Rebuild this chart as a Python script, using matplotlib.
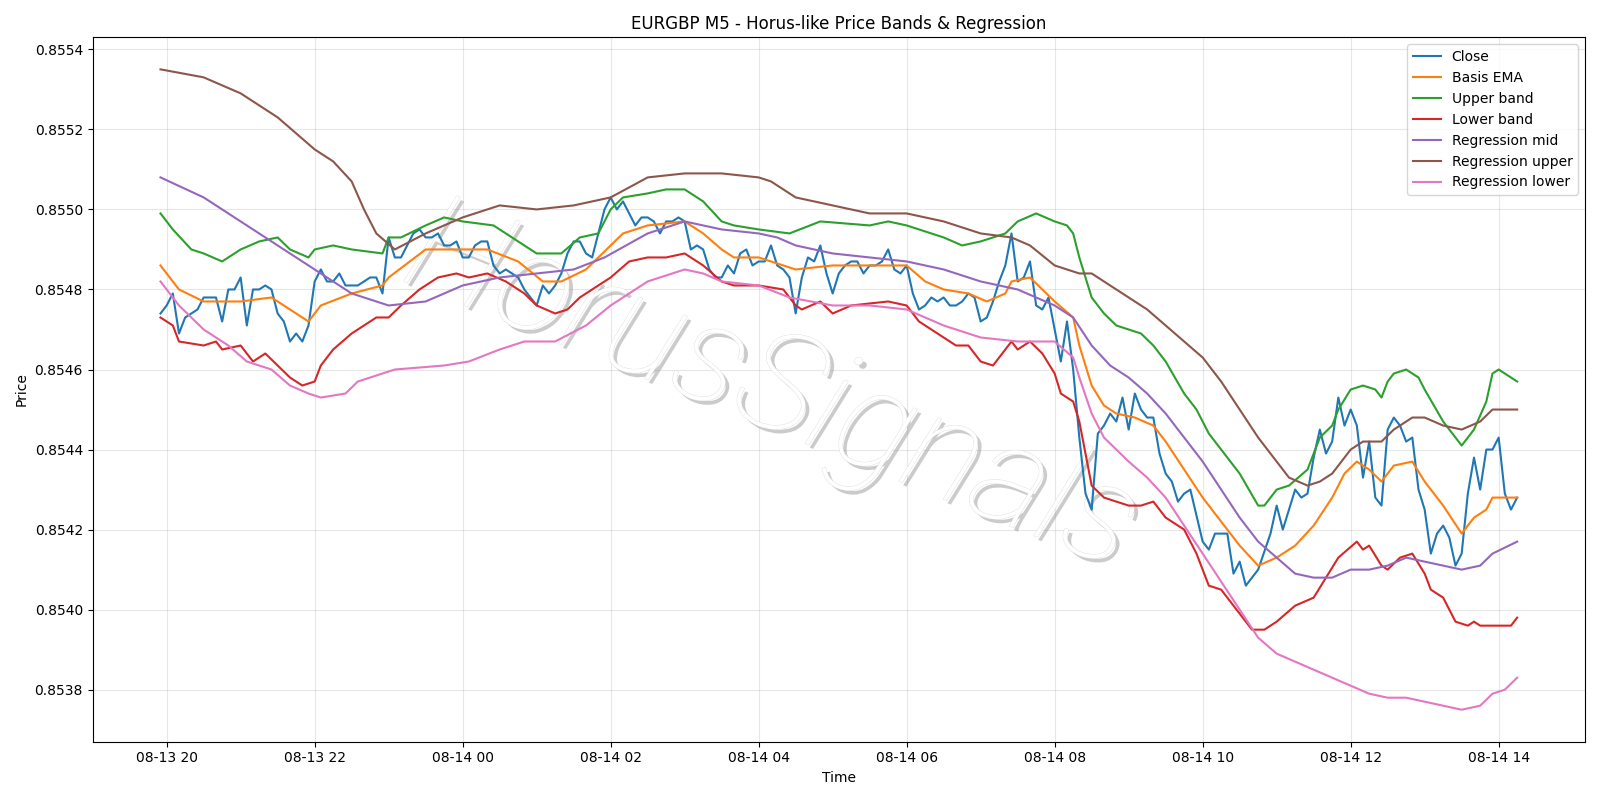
import matplotlib
matplotlib.use("Agg")
import matplotlib.pyplot as plt
import matplotlib.dates as mdates
import matplotlib.patheffects as pe
import pandas as pd

# ---------------- data ----------------
close_t = ["08-13 19:55","08-13 20:00","08-13 20:05","08-13 20:10","08-13 20:15","08-13 20:25","08-13 20:30","08-13 20:40","08-13 20:45","08-13 20:50","08-13 20:55","08-13 21:00","08-13 21:05","08-13 21:10","08-13 21:15","08-13 21:20","08-13 21:25","08-13 21:30","08-13 21:35","08-13 21:40","08-13 21:45","08-13 21:50","08-13 21:55","08-13 22:00","08-13 22:05","08-13 22:10","08-13 22:15","08-13 22:20","08-13 22:25","08-13 22:35","08-13 22:45","08-13 22:50","08-13 22:55","08-13 23:00","08-13 23:05","08-13 23:10","08-13 23:15","08-13 23:20","08-13 23:25","08-13 23:30","08-13 23:35","08-13 23:40","08-13 23:45","08-13 23:50","08-13 23:55",
"08-14 00:00","08-14 00:05","08-14 00:10","08-14 00:15","08-14 00:20","08-14 00:25","08-14 00:30","08-14 00:35","08-14 00:40","08-14 00:45","08-14 00:50","08-14 00:55","08-14 01:00","08-14 01:05","08-14 01:10","08-14 01:15","08-14 01:20","08-14 01:25","08-14 01:30","08-14 01:35","08-14 01:40","08-14 01:45","08-14 01:50","08-14 01:55",
"08-14 02:00","08-14 02:05","08-14 02:10","08-14 02:15","08-14 02:20","08-14 02:25","08-14 02:30","08-14 02:35","08-14 02:40","08-14 02:45","08-14 02:50","08-14 02:55","08-14 03:00","08-14 03:05","08-14 03:10","08-14 03:15","08-14 03:20","08-14 03:25","08-14 03:30","08-14 03:35","08-14 03:40","08-14 03:45","08-14 03:50","08-14 03:55",
"08-14 04:00","08-14 04:05","08-14 04:10","08-14 04:15","08-14 04:20","08-14 04:25","08-14 04:30","08-14 04:35","08-14 04:40","08-14 04:45","08-14 04:50","08-14 04:55","08-14 05:00","08-14 05:05","08-14 05:10","08-14 05:15","08-14 05:20","08-14 05:25","08-14 05:30","08-14 05:35","08-14 05:40","08-14 05:45","08-14 05:50","08-14 05:55",
"08-14 06:00","08-14 06:05","08-14 06:10","08-14 06:15","08-14 06:20","08-14 06:25","08-14 06:30","08-14 06:35","08-14 06:40","08-14 06:45","08-14 06:50","08-14 06:55","08-14 07:00","08-14 07:05","08-14 07:10","08-14 07:15","08-14 07:20","08-14 07:25","08-14 07:30","08-14 07:35","08-14 07:40","08-14 07:45","08-14 07:50","08-14 07:55",
"08-14 08:00","08-14 08:05","08-14 08:10","08-14 08:15","08-14 08:20","08-14 08:25","08-14 08:30","08-14 08:35","08-14 08:40","08-14 08:45","08-14 08:50","08-14 08:55","08-14 09:00","08-14 09:05","08-14 09:10","08-14 09:15","08-14 09:20","08-14 09:25","08-14 09:30","08-14 09:35","08-14 09:40","08-14 09:45","08-14 09:50","08-14 10:00",
"08-14 10:05","08-14 10:10","08-14 10:20","08-14 10:25","08-14 10:30","08-14 10:35","08-14 10:40","08-14 10:45","08-14 10:55","08-14 11:00","08-14 11:05","08-14 11:10","08-14 11:15","08-14 11:20","08-14 11:25","08-14 11:30","08-14 11:35","08-14 11:40","08-14 11:45","08-14 11:50","08-14 11:55",
"08-14 12:00","08-14 12:05","08-14 12:10","08-14 12:15","08-14 12:20","08-14 12:25","08-14 12:30","08-14 12:35","08-14 12:40","08-14 12:45","08-14 12:50","08-14 12:55","08-14 13:00","08-14 13:05","08-14 13:10","08-14 13:15","08-14 13:20","08-14 13:25","08-14 13:30","08-14 13:35","08-14 13:40","08-14 13:45","08-14 13:50","08-14 13:55","08-14 14:00","08-14 14:05","08-14 14:10","08-14 14:15"]
close_v = [0.85474,0.85476,0.85479,0.85469,0.85473,0.85475,0.85478,0.85478,0.85472,0.85480,0.85480,0.85483,0.85471,0.85480,0.85480,0.85481,0.85480,0.85474,0.85472,0.85467,0.85469,0.85467,0.85471,0.85482,0.85485,0.85482,0.85482,0.85484,0.85481,0.85481,0.85483,0.85483,0.85479,0.85493,0.85488,0.85488,0.85491,0.85494,0.85495,0.85493,0.85493,0.85494,0.85491,0.85491,0.85492,
0.85488,0.85488,0.85491,0.85492,0.85492,0.85486,0.85484,0.85485,0.85484,0.85483,0.85480,0.85478,0.85476,0.85481,0.85479,0.85481,0.85484,0.85489,0.85492,0.85492,0.85489,0.85488,0.85494,0.85500,
0.85503,0.85500,0.85502,0.85499,0.85496,0.85498,0.85498,0.85497,0.85494,0.85497,0.85497,0.85498,0.85497,0.85490,0.85491,0.85490,0.85485,0.85483,0.85483,0.85486,0.85484,0.85489,0.85490,0.85486,
0.85487,0.85487,0.85491,0.85486,0.85485,0.85483,0.85474,0.85483,0.85488,0.85487,0.85491,0.85484,0.85479,0.85484,0.85486,0.85487,0.85487,0.85484,0.85486,0.85486,0.85487,0.85490,0.85485,0.85484,
0.85486,0.85479,0.85475,0.85476,0.85478,0.85477,0.85478,0.85476,0.85476,0.85477,0.85479,0.85478,0.85472,0.85473,0.85477,0.85482,0.85486,0.85494,0.85482,0.85483,0.85487,0.85476,0.85475,0.85478,
0.85470,0.85462,0.85472,0.85460,0.85443,0.85429,0.85425,0.85444,0.85446,0.85449,0.85447,0.85453,0.85445,0.85454,0.85450,0.85448,0.85448,0.85439,0.85434,0.85432,0.85427,0.85429,0.85430,0.85417,
0.85415,0.85419,0.85419,0.85409,0.85412,0.85406,0.85408,0.85410,0.85419,0.85426,0.85420,0.85425,0.85430,0.85428,0.85429,0.85438,0.85445,0.85439,0.85442,0.85453,0.85446,
0.85450,0.85446,0.85433,0.85442,0.85428,0.85426,0.85445,0.85448,0.85446,0.85442,0.85443,0.85430,0.85425,0.85414,0.85419,0.85421,0.85418,0.85411,0.85414,0.85429,0.85438,0.85430,0.85440,0.85440,0.85443,0.85429,0.85425,0.85428]

ema_t = ["08-13 19:55","08-13 20:10","08-13 20:30","08-13 20:45","08-13 21:00","08-13 21:25","08-13 21:40","08-13 21:55","08-13 22:05","08-13 22:30","08-13 22:55","08-13 23:00","08-13 23:30","08-14 00:00","08-14 00:20","08-14 00:45","08-14 01:05","08-14 01:20","08-14 01:40","08-14 02:00","08-14 02:10","08-14 02:30","08-14 03:00","08-14 03:15","08-14 03:30","08-14 03:40","08-14 04:00","08-14 04:30","08-14 05:00","08-14 05:30","08-14 06:00","08-14 06:15","08-14 06:30","08-14 06:50","08-14 07:05","08-14 07:20","08-14 07:25","08-14 07:40","08-14 07:50","08-14 08:00","08-14 08:15","08-14 08:20","08-14 08:30","08-14 08:40","08-14 08:50","08-14 09:05","08-14 09:20","08-14 09:30","08-14 09:45","08-14 10:00","08-14 10:15","08-14 10:30","08-14 10:45","08-14 11:00","08-14 11:15","08-14 11:30","08-14 11:45","08-14 11:55","08-14 12:05","08-14 12:15","08-14 12:25","08-14 12:35","08-14 12:50","08-14 13:00","08-14 13:15","08-14 13:30","08-14 13:40","08-14 13:50","08-14 13:55","08-14 14:05","08-14 14:15"]
ema_v = [0.85486,0.85480,0.85477,0.85477,0.85477,0.85478,0.85475,0.85472,0.85476,0.85479,0.85481,0.85483,0.85490,0.85490,0.85490,0.85487,0.85482,0.85482,0.85485,0.85491,0.85494,0.85496,0.85497,0.85494,0.85490,0.85488,0.85488,0.85485,0.85486,0.85486,0.85486,0.85482,0.85480,0.85479,0.85477,0.85479,0.85482,0.85483,0.85480,0.85477,0.85473,0.85466,0.85456,0.85451,0.85449,0.85448,0.85446,0.85442,0.85435,0.85428,0.85422,0.85416,0.85411,0.85413,0.85416,0.85421,0.85428,0.85434,0.85437,0.85435,0.85432,0.85436,0.85437,0.85432,0.85426,0.85419,0.85423,0.85425,0.85428,0.85428,0.85428]

upper_t = ["08-13 19:55","08-13 20:05","08-13 20:20","08-13 20:30","08-13 20:45","08-13 21:00","08-13 21:15","08-13 21:30","08-13 21:40","08-13 21:55","08-13 22:00","08-13 22:15","08-13 22:30","08-13 22:55","08-13 23:00","08-13 23:10","08-13 23:30","08-13 23:45","08-14 00:00","08-14 00:25","08-14 00:40","08-14 01:00","08-14 01:20","08-14 01:35","08-14 01:50","08-14 02:00","08-14 02:10","08-14 02:30","08-14 02:45","08-14 03:00","08-14 03:15","08-14 03:30","08-14 03:40","08-14 04:00","08-14 04:25","08-14 04:50","08-14 05:30","08-14 05:45","08-14 06:00","08-14 06:30","08-14 06:45","08-14 07:00","08-14 07:20","08-14 07:30","08-14 07:45","08-14 08:00","08-14 08:10","08-14 08:15","08-14 08:20","08-14 08:30","08-14 08:40","08-14 08:50","08-14 09:00","08-14 09:10","08-14 09:20","08-14 09:30","08-14 09:45","08-14 09:55","08-14 10:05","08-14 10:20","08-14 10:30","08-14 10:45","08-14 10:50","08-14 11:00","08-14 11:10","08-14 11:25","08-14 11:35","08-14 11:45","08-14 11:50","08-14 12:00","08-14 12:10","08-14 12:20","08-14 12:25","08-14 12:30","08-14 12:35","08-14 12:45","08-14 12:55","08-14 13:00","08-14 13:15","08-14 13:30","08-14 13:40","08-14 13:50","08-14 13:55","08-14 14:00","08-14 14:15"]
upper_v = [0.85499,0.85495,0.85490,0.85489,0.85487,0.85490,0.85492,0.85493,0.85490,0.85488,0.85490,0.85491,0.85490,0.85489,0.85493,0.85493,0.85496,0.85498,0.85497,0.85496,0.85493,0.85489,0.85489,0.85493,0.85494,0.85500,0.85503,0.85504,0.85505,0.85505,0.85502,0.85497,0.85496,0.85495,0.85494,0.85497,0.85496,0.85497,0.85496,0.85493,0.85491,0.85492,0.85494,0.85497,0.85499,0.85497,0.85496,0.85494,0.85488,0.85478,0.85474,0.85471,0.85470,0.85469,0.85466,0.85462,0.85454,0.85450,0.85444,0.85438,0.85434,0.85426,0.85426,0.85430,0.85431,0.85435,0.85443,0.85446,0.85450,0.85455,0.85456,0.85455,0.85453,0.85457,0.85459,0.85460,0.85458,0.85455,0.85447,0.85441,0.85445,0.85452,0.85459,0.85460,0.85457]

lower_t = ["08-13 19:55","08-13 20:05","08-13 20:10","08-13 20:30","08-13 20:40","08-13 20:45","08-13 21:00","08-13 21:10","08-13 21:20","08-13 21:30","08-13 21:40","08-13 21:50","08-13 22:00","08-13 22:05","08-13 22:15","08-13 22:30","08-13 22:50","08-13 23:00","08-13 23:10","08-13 23:25","08-13 23:40","08-13 23:55","08-14 00:05","08-14 00:20","08-14 00:35","08-14 00:50","08-14 01:00","08-14 01:15","08-14 01:25","08-14 01:35","08-14 01:45","08-14 02:00","08-14 02:15","08-14 02:30","08-14 02:45","08-14 03:00","08-14 03:05","08-14 03:15","08-14 03:30","08-14 03:40","08-14 04:00","08-14 04:20","08-14 04:30","08-14 04:35","08-14 04:50","08-14 05:00","08-14 05:15","08-14 05:45","08-14 06:00","08-14 06:10","08-14 06:30","08-14 06:40","08-14 06:50","08-14 07:00","08-14 07:10","08-14 07:25","08-14 07:30","08-14 07:40","08-14 07:50","08-14 08:00","08-14 08:05","08-14 08:15","08-14 08:20","08-14 08:30","08-14 08:40","08-14 08:50","08-14 09:00","08-14 09:10","08-14 09:20","08-14 09:30","08-14 09:45","08-14 09:55","08-14 10:05","08-14 10:15","08-14 10:30","08-14 10:40","08-14 10:50","08-14 11:00","08-14 11:15","08-14 11:30","08-14 11:40","08-14 11:50","08-14 12:05","08-14 12:10","08-14 12:15","08-14 12:25","08-14 12:30","08-14 12:40","08-14 12:50","08-14 13:00","08-14 13:05","08-14 13:15","08-14 13:25","08-14 13:35","08-14 13:40","08-14 13:45","08-14 13:55","08-14 14:10","08-14 14:15"]
lower_v = [0.85473,0.85471,0.85467,0.85466,0.85467,0.85465,0.85466,0.85462,0.85464,0.85461,0.85458,0.85456,0.85457,0.85461,0.85465,0.85469,0.85473,0.85473,0.85476,0.85480,0.85483,0.85484,0.85483,0.85484,0.85482,0.85479,0.85476,0.85474,0.85475,0.85478,0.85480,0.85483,0.85487,0.85488,0.85488,0.85489,0.85488,0.85486,0.85482,0.85481,0.85481,0.85480,0.85476,0.85475,0.85477,0.85474,0.85476,0.85477,0.85476,0.85472,0.85468,0.85466,0.85466,0.85462,0.85461,0.85467,0.85465,0.85467,0.85464,0.85459,0.85454,0.85452,0.85447,0.85431,0.85428,0.85427,0.85426,0.85426,0.85427,0.85423,0.85420,0.85414,0.85406,0.85405,0.85399,0.85395,0.85395,0.85397,0.85401,0.85403,0.85408,0.85413,0.85417,0.85415,0.85416,0.85411,0.85410,0.85413,0.85414,0.85409,0.85405,0.85403,0.85397,0.85396,0.85397,0.85396,0.85396,0.85396,0.85398]

rmid_t = ["08-13 19:55","08-13 20:30","08-13 21:00","08-13 21:30","08-13 22:00","08-13 22:30","08-13 23:00","08-13 23:30","08-14 00:00","08-14 00:30","08-14 01:00","08-14 01:30","08-14 01:55","08-14 02:30","08-14 03:00","08-14 03:30","08-14 04:00","08-14 04:15","08-14 04:30","08-14 05:00","08-14 05:30","08-14 06:00","08-14 06:30","08-14 07:00","08-14 07:30","08-14 08:00","08-14 08:15","08-14 08:30","08-14 08:45","08-14 09:00","08-14 09:15","08-14 09:30","08-14 09:45","08-14 10:00","08-14 10:15","08-14 10:30","08-14 10:45","08-14 11:00","08-14 11:15","08-14 11:30","08-14 11:45","08-14 12:00","08-14 12:15","08-14 12:30","08-14 12:45","08-14 13:00","08-14 13:15","08-14 13:30","08-14 13:45","08-14 13:55","08-14 14:15"]
rmid_v = [0.85508,0.85503,0.85497,0.85491,0.85485,0.85479,0.85476,0.85477,0.85481,0.85483,0.85484,0.85485,0.85488,0.85494,0.85497,0.85495,0.85494,0.85493,0.85491,0.85489,0.85488,0.85487,0.85485,0.85482,0.85480,0.85476,0.85473,0.85466,0.85461,0.85458,0.85454,0.85449,0.85443,0.85437,0.85430,0.85423,0.85417,0.85413,0.85409,0.85408,0.85408,0.85410,0.85410,0.85411,0.85413,0.85412,0.85411,0.85410,0.85411,0.85414,0.85417]

rup_t = ["08-13 19:55","08-13 20:30","08-13 21:00","08-13 21:30","08-13 22:00","08-13 22:15","08-13 22:30","08-13 22:40","08-13 22:50","08-13 23:05","08-13 23:30","08-14 00:00","08-14 00:30","08-14 01:00","08-14 01:30","08-14 02:00","08-14 02:30","08-14 03:00","08-14 03:30","08-14 04:00","08-14 04:10","08-14 04:30","08-14 05:00","08-14 05:30","08-14 06:00","08-14 06:30","08-14 07:00","08-14 07:25","08-14 07:40","08-14 08:00","08-14 08:20","08-14 08:30","08-14 08:45","08-14 09:00","08-14 09:15","08-14 09:30","08-14 09:45","08-14 10:00","08-14 10:15","08-14 10:30","08-14 10:45","08-14 11:00","08-14 11:10","08-14 11:25","08-14 11:35","08-14 11:45","08-14 12:00","08-14 12:10","08-14 12:25","08-14 12:35","08-14 12:50","08-14 13:00","08-14 13:15","08-14 13:30","08-14 13:45","08-14 13:55","08-14 14:15"]
rup_v = [0.85535,0.85533,0.85529,0.85523,0.85515,0.85512,0.85507,0.85500,0.85494,0.85490,0.85494,0.85498,0.85501,0.85500,0.85501,0.85503,0.85508,0.85509,0.85509,0.85508,0.85507,0.85503,0.85501,0.85499,0.85499,0.85497,0.85494,0.85493,0.85491,0.85486,0.85484,0.85484,0.85481,0.85478,0.85475,0.85471,0.85467,0.85463,0.85457,0.85450,0.85443,0.85437,0.85433,0.85431,0.85432,0.85434,0.85440,0.85442,0.85442,0.85445,0.85448,0.85448,0.85446,0.85445,0.85447,0.85450,0.85450]

rlow_t = ["08-13 19:55","08-13 20:10","08-13 20:30","08-13 20:50","08-13 21:05","08-13 21:25","08-13 21:40","08-13 21:55","08-13 22:05","08-13 22:25","08-13 22:35","08-13 23:05","08-13 23:45","08-14 00:05","08-14 00:30","08-14 00:50","08-14 01:15","08-14 01:40","08-14 02:00","08-14 02:30","08-14 03:00","08-14 03:15","08-14 03:30","08-14 04:00","08-14 04:25","08-14 05:00","08-14 05:30","08-14 06:00","08-14 06:30","08-14 07:00","08-14 07:30","08-14 08:00","08-14 08:15","08-14 08:20","08-14 08:30","08-14 08:40","08-14 09:00","08-14 09:15","08-14 09:30","08-14 09:45","08-14 10:00","08-14 10:15","08-14 10:30","08-14 10:45","08-14 11:00","08-14 11:15","08-14 11:30","08-14 11:45","08-14 12:00","08-14 12:15","08-14 12:30","08-14 12:45","08-14 13:00","08-14 13:15","08-14 13:30","08-14 13:45","08-14 13:55","08-14 14:05","08-14 14:15"]
rlow_v = [0.85482,0.85476,0.85470,0.85466,0.85462,0.85460,0.85456,0.85454,0.85453,0.85454,0.85457,0.85460,0.85461,0.85462,0.85465,0.85467,0.85467,0.85471,0.85476,0.85482,0.85485,0.85484,0.85482,0.85481,0.85478,0.85476,0.85476,0.85475,0.85471,0.85468,0.85467,0.85467,0.85463,0.85458,0.85449,0.85443,0.85437,0.85433,0.85428,0.85421,0.85414,0.85407,0.85400,0.85393,0.85389,0.85387,0.85385,0.85383,0.85381,0.85379,0.85378,0.85378,0.85377,0.85376,0.85375,0.85376,0.85379,0.85380,0.85383]

series = [
    ("Close", close_t, close_v),
    ("Basis EMA", ema_t, ema_v),
    ("Upper band", upper_t, upper_v),
    ("Lower band", lower_t, lower_v),
    ("Regression mid", rmid_t, rmid_v),
    ("Regression upper", rup_t, rup_v),
    ("Regression lower", rlow_t, rlow_v),
]

def to_dt(ts):
    return pd.to_datetime(["2025-" + t for t in ts], format="%Y-%m-%d %H:%M")

fig, ax = plt.subplots(figsize=(16, 8), dpi=100)
for name, t, v in series:
    ax.plot(to_dt(t), v, label=name, linewidth=1.5, zorder=3)

ax.set_title("EURGBP M5 - Horus-like Price Bands & Regression")
ax.set_xlabel("Time")
ax.set_ylabel("Price")
ax.grid(True, alpha=0.3)
ax.legend(loc="upper right")
ax.xaxis.set_major_locator(mdates.HourLocator(interval=2))
ax.xaxis.set_major_formatter(mdates.DateFormatter("%m-%d %H"))
ax.set_ylim(0.85367, 0.85543)

ax.text(0.455, 0.50, "HorusSignals", transform=ax.transAxes, fontsize=100, rotation=-22,
        color="white", fontstyle="italic", family="Roboto", fontweight=100,
        ha="center", va="center", zorder=2,
        path_effects=[pe.SimplePatchShadow(offset=(3, -3), shadow_rgbFace="#999999", alpha=0.5),
                      pe.Stroke(linewidth=0.6, foreground="#dddddd"),
                      pe.Normal()])

fig.tight_layout()
fig.savefig("out.png", dpi=100)
